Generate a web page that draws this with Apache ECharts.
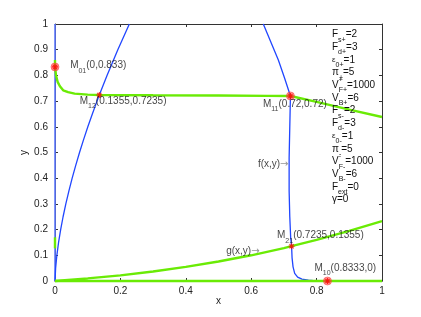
<!DOCTYPE html>
<html><head><meta charset="utf-8">
<script src="https://cdn.jsdelivr.net/npm/echarts@6/dist/echarts.min.js"></script>
<style>html,body{margin:0;padding:0;background:#fff}#c{width:421px;height:317px}</style>
</head><body><div id="c"></div>
<script>
// ---- data ----
const fLeftX = [0,0.0019,0.0057,0.0109,0.0173,0.0247,0.0331,0.0424,0.0525,0.0634,0.0750,0.0874,0.1004,0.1142,0.1285,0.1355,0.1591,0.1921,0.2274];
const fLeftY = [0,0.05,0.1,0.15,0.2,0.25,0.3,0.35,0.4,0.45,0.5,0.55,0.6,0.65,0.7,0.7235,0.8,0.9,1];
const fRightX = [0.637,0.66,0.683,0.702,0.72,0.718,0.716,0.716,0.718,0.7207,0.7235,0.725,0.728,0.733,0.742,0.755,0.775,0.8];
const fRightY = [1,0.93,0.86,0.79,0.72,0.6,0.48,0.35,0.25,0.17,0.1355,0.09,0.055,0.03,0.015,0.007,0.003,0];
const fAxisX = [0,0];
const fAxisY = [0,1];
const gUpperX = [0,0,0.003,0.008,0.015,0.025,0.04,0.06,0.1,0.1355,0.3,0.5,0.65,0.72,0.8,0.9,1];
const gUpperY = [0.86,0.836,0.8,0.775,0.758,0.742,0.735,0.729,0.725,0.7235,0.7225,0.7215,0.7205,0.72,0.697,0.667,0.638];
const gLowerX = [0,0.1,0.2,0.3,0.4,0.5,0.6,0.7,0.7235,0.8,0.9,1];
const gLowerY = [0,0.01,0.022,0.037,0.055,0.076,0.1,0.128,0.1355,0.16,0.195,0.233];
const gBottomX = [0,1];
const gBottomY = [0,0];
const gAxisSegX = [0,0];
const gAxisSegY = [0.127,0.17];

const ptName = ['01','12','11','21','10'];
const ptX = [0,0.1355,0.72,0.7235,0.8333];
const ptY = [0.833,0.7235,0.72,0.1355,0];
const ptText = ['(0,0.833)','(0.1355,0.7235)','(0.72,0.72)','(0.7235,0.1355)','(0.8333,0)'];
const ptCircle = [1,0,1,0,1];

const annX = [0.7156,0.627];
const annY = [0.455,0.114];
const annText = ['f(x,y)','g(x,y)'];

const paramSym = ['F','F','ε','π','V','V','F','F','ε','π','V','V','F','γ'];
const paramSup = ['','','','','+','','','','','','-','','',''];
const paramSub = ['s+','d+','0+','+','F+','B+','s-','d-','0-','-','F-','B-','ext',''];
const paramVal = ['2','3','1','5','1000','6','2','3','1','5','1000','6','0','0'];

// ---- styles ----
const FONT = 'Liberation Sans, Arial, Helvetica, sans-serif';
const BLUE = '#2046ff';
const GREEN = '#6aeb05';
const AX = '#333333';
const labelOff = [[15.7,-1],[-19,6.7],[-27,8.6],[-14,-10],[-12.5,-12.7]];

function pairs(xs, ys){ return xs.map((x,i)=>[x, ys[i]]); }
function line(xs, ys, color, width){
  return {type:'line', data:pairs(xs,ys), showSymbol:false, symbol:'none', clip:false,
    lineStyle:{color:color, width:width}, itemStyle:{color:color}, silent:true, z:3};
}

const starPath = 'path://M5,0L5,10M0,5L10,5M1.5,1.5L8.5,8.5M1.5,8.5L8.5,1.5';
const STAR = 6;

const series = [
  line(fAxisX, fAxisY, '#5d78ff', 1.6),
  line(fLeftX, fLeftY, BLUE, 1.3),
  line(fRightX, fRightY, BLUE, 1.3),
  line(gBottomX, gBottomY, GREEN, 2.4),
  line(gLowerX, gLowerY, GREEN, 2.4),
  line(gUpperX, gUpperY, GREEN, 2.4),
  line(gAxisSegX, gAxisSegY, GREEN, 2.4),
  {type:'scatter', symbol:'circle', symbolSize:8, silent:true, z:5,
    itemStyle:{color:'rgba(255,80,80,0.75)', borderColor:'#ff2a2a', borderWidth:0.6},
    data: pairs(ptX, ptY).filter((p,i)=>ptCircle[i])},
  {type:'scatter', symbol:starPath, symbolSize:STAR, silent:true, z:6,
    itemStyle:{color:'rgba(0,0,0,0)', borderColor:'#ff0000', borderWidth:1.1},
    data: pairs(ptX, ptY).map((p,i)=>({value:p,
      label:{show:true, position:[STAR/2+labelOff[i][0], STAR/2+labelOff[i][1]], align:'left', verticalAlign:'middle',
        formatter:'{n|M}{s|'+ptName[i]+'}{n|'+ptText[i]+'}',
        rich:{n:{fontSize:10, lineHeight:13, color:'#111', fontFamily:FONT},
              s:{fontSize:7, lineHeight:3, height:2.5, verticalAlign:'bottom', color:'#111', fontFamily:FONT}}}}))},
  {type:'scatter', symbolSize:1, silent:true, z:6, itemStyle:{color:'rgba(0,0,0,0)'},
    data: pairs(annX, annY).map((p,i)=>({value:p,
      label:{show:true, position:'left', distance:0, verticalAlign:'middle',
        formatter:'{n|'+annText[i]+'}{a|→}',
        rich:{n:{fontSize:10, color:'#111', fontFamily:FONT}, a:{fontSize:10, color:'#777', fontFamily:'DejaVu Sans, Liberation Sans'}}}}))}
];

const panelText = paramSym.map((s,i)=>{
  let t = (s==='ε' ? '{e|'+s+'}' : '{n|'+s+'}');
  if (paramSup[i]) t += '{p|'+paramSup[i]+'}';
  if (paramSub[i]) t += '{s|'+paramSub[i]+'}';
  t += '{n|='+paramVal[i]+'}';
  return t;
}).join('\n');

const xAxisBase = {type:'value', min:0, max:1, interval:0.2, splitLine:{show:false},
  axisLine:{show:true, onZero:false, lineStyle:{color:AX, width:1}},
  axisTick:{show:true, inside:true, length:3, lineStyle:{color:AX, width:1}}};
const yAxisBase = {type:'value', min:0, max:1, interval:0.1, splitLine:{show:false},
  axisLine:{show:true, onZero:false, lineStyle:{color:AX, width:1}},
  axisTick:{show:true, inside:true, length:3, lineStyle:{color:AX, width:1}}};

const option = {
  animation:false,
  backgroundColor:'#ffffff',
  grid:{left:55, right:39, top:24, bottom:36},
  xAxis:[
    Object.assign({}, xAxisBase, {position:'bottom', name:'x', nameLocation:'middle', nameGap:15, nameMoveOverlap:false,
      nameTextStyle:{fontSize:10, color:'#222', fontFamily:FONT},
      axisLabel:{show:true, margin:5, fontSize:10, color:'#222', fontFamily:FONT}}),
    Object.assign({}, xAxisBase, {position:'top', axisLabel:{show:false}})
  ],
  yAxis:[
    Object.assign({}, yAxisBase, {position:'left', name:'y', nameLocation:'middle', nameGap:26, nameMoveOverlap:false,
      nameTextStyle:{fontSize:10, color:'#222', fontFamily:FONT},
      axisLabel:{show:true, margin:7, fontSize:10, color:'#222', fontFamily:FONT}}),
    Object.assign({}, yAxisBase, {position:'right', axisLabel:{show:false}})
  ],
  graphic:[{type:'text', left:332, top:29.5, z:10, silent:true,
    style:{text:panelText, fill:'#111', font:'10px '+FONT,
      rich:{
        n:{fontSize:10, lineHeight:12.7, fill:'#111', fontFamily:FONT},
        e:{fontSize:8, lineHeight:12.7, fill:'#111', fontFamily:FONT},
        s:{fontSize:7, lineHeight:3, height:2.5, verticalAlign:'bottom', fill:'#111', fontFamily:FONT},
        p:{fontSize:7, lineHeight:3, height:2.5, verticalAlign:'top', width:0, fill:'#111', fontFamily:FONT}
      }}}],
  series: series
};
const chart = echarts.init(document.getElementById('c'), null, {renderer:'canvas'});
chart.setOption(option);
</script>
</body></html>
